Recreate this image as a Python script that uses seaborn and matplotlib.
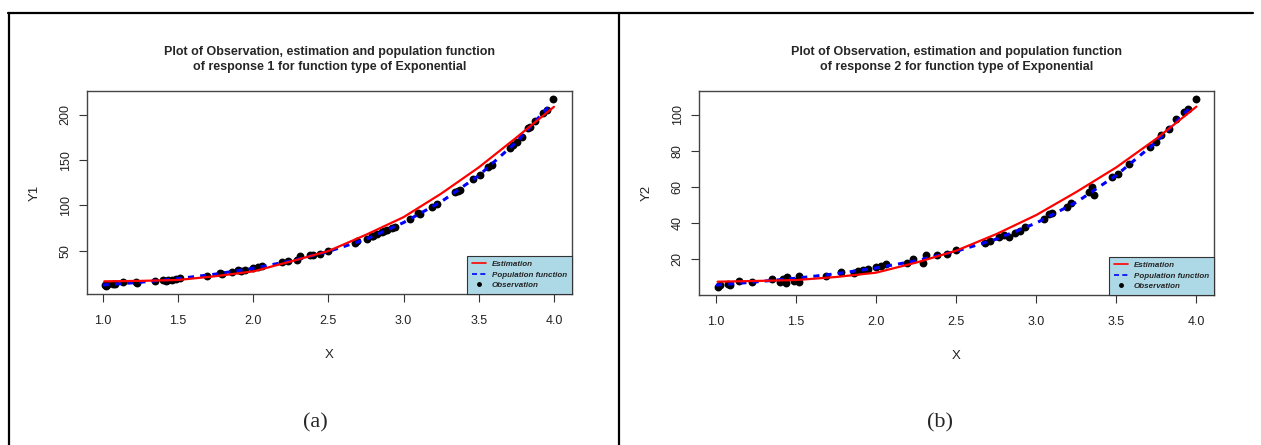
import numpy as np
import pandas as pd
import matplotlib
matplotlib.use("Agg")
import matplotlib.pyplot as plt
import seaborn as sns
from matplotlib.lines import Line2D

# ---------------- data ----------------
obs1_x = [1.013, 1.02, 1.03, 1.069, 1.08, 1.135, 1.224, 1.23, 1.346, 1.401, 1.42, 1.435,
          1.46, 1.49, 1.512, 1.69, 1.778, 1.79, 1.856, 1.9, 1.92, 1.945, 2.0, 2.03, 2.056,
          2.189, 2.233, 2.289, 2.311, 2.377, 2.40, 2.444, 2.5, 2.677, 2.69, 2.754, 2.788,
          2.80, 2.821, 2.854, 2.87, 2.888, 2.921, 2.94, 3.043, 3.098, 3.11, 3.187, 3.22,
          3.342, 3.36, 3.375, 3.464, 3.508, 3.564, 3.586, 3.708, 3.73, 3.753, 3.786, 3.83,
          3.84, 3.874, 3.93, 3.952, 3.996]
obs1_y = [11.8, 10.5, 12.5, 13.3, 12.8, 15.1, 15.8, 14.5, 16.9, 17.5, 16.8, 18.0,
          17.5, 18.8, 20.2, 22.4, 25.4, 24.5, 26.8, 28.3, 27.5, 29.0, 30.9, 32.0, 33.5,
          37.1, 38.2, 40.1, 43.8, 44.8, 45.5, 46.7, 50.0, 58.5, 60.5, 63.2, 65.8,
          66.5, 68.4, 70.2, 71.5, 72.4, 75.0, 76.0, 84.9, 91.5, 90.0, 98.1, 101.4,
          114.3, 116.0, 117.3, 129.0, 133.8, 143.0, 144.8, 163.2, 167.0, 170.5, 175.4, 185.3,
          187.0, 193.7, 201.8, 205.5, 217.6]

pop1_x = [1.0, 1.25, 1.5, 1.75, 2.0, 2.25, 2.5, 2.75, 3.0, 3.25, 3.5, 3.75, 3.98]
pop1_y = [12.0, 15.0, 19.0, 24.0, 30.5, 38.5, 49.0, 62.5, 81.0, 104.0, 133.0, 170.0, 212.0]

est1_x = [1.01, 1.25, 1.5, 1.75, 2.0, 2.25, 2.5, 2.75, 3.0, 3.25, 3.5, 3.75, 4.0]
est1_y = [16.0, 16.5, 17.5, 21.7, 27.0, 38.0, 49.5, 67.5, 87.0, 113.0, 142.0, 175.0, 209.0]

obs2_x = [1.015, 1.025, 1.077, 1.087, 1.145, 1.222, 1.347, 1.40, 1.42, 1.44, 1.445, 1.49,
          1.52, 1.52, 1.69, 1.78, 1.86, 1.89, 1.92, 1.95, 2.00, 2.03, 2.06, 2.19, 2.23,
          2.29, 2.31, 2.38, 2.44, 2.50, 2.68, 2.71, 2.77, 2.80, 2.83, 2.87, 2.90, 2.93,
          3.05, 3.08, 3.10, 3.19, 3.22, 3.33, 3.36, 3.35, 3.47, 3.51, 3.58, 3.71, 3.75,
          3.78, 3.83, 3.87, 3.92, 3.95, 3.997]
obs2_y = [4.3, 5.6, 6.1, 5.6, 7.8, 7.4, 8.7, 7.4, 8.7, 6.5, 10.0, 7.8,
          10.4, 7.4, 10.6, 12.6, 12.4, 13.3, 13.9, 14.6, 15.4, 16.1, 17.2, 17.9, 20.0,
          17.9, 22.0, 22.1, 22.6, 24.9, 29.0, 30.1, 32.2, 33.2, 32.2, 34.3, 35.8, 37.6,
          42.3, 44.8, 45.5, 48.8, 51.0, 57.1, 55.8, 60.0, 65.8, 67.3, 72.9, 82.2, 85.0,
          88.7, 92.4, 97.6, 101.7, 103.5, 108.9]

pop2_x = [1.0, 1.25, 1.5, 1.75, 2.0, 2.25, 2.5, 2.75, 3.0, 3.25, 3.5, 3.75, 3.97]
pop2_y = [5.5, 7.3, 9.3, 11.8, 15.0, 19.0, 24.3, 31.0, 40.0, 51.5, 66.5, 85.0, 105.0]

est2_x = [1.01, 1.25, 1.5, 1.75, 2.0, 2.25, 2.5, 2.75, 3.0, 3.25, 3.5, 3.75, 4.0]
est2_y = [7.4, 7.8, 8.3, 10.0, 12.4, 18.0, 24.6, 33.8, 44.4, 57.2, 70.9, 86.8, 104.6]

x_ticks = [1.0, 1.5, 2.0, 2.5, 3.0, 3.5, 4.0]
y1_ticks = [50, 100, 150, 200]
y2_ticks = [20, 40, 60, 80, 100]

titles = ["Plot of Observation, estimation and population function\nof response 1 for function type of Exponential",
          "Plot of Observation, estimation and population function\nof response 2 for function type of Exponential"]
ylabels = ["Y1", "Y2"]
captions = ["(a)", "(b)"]
legend_labels = ["Estimation", "Population function", "Observation"]

# ---------------- figure ----------------
sns.set_theme(style="white")
plt.rcParams['font.family'] = ['Liberation Sans', 'DejaVu Sans']

W, H = 1261, 445
fig = plt.figure(figsize=(W / 100, H / 100), dpi=100)
fig.patch.set_facecolor("white")

def box(l, t, r, b):
    return [l / W, 1 - b / H, (r - l) / W, (b - t) / H]

ax1 = fig.add_axes(box(87, 91, 572, 294))
ax2 = fig.add_axes(box(699, 91, 1214, 295))

panels = [
    (ax1, obs1_x, obs1_y, pop1_x, pop1_y, est1_x, est1_y, y1_ticks, (0.895, 4.12), (2, 226.5)),
    (ax2, obs2_x, obs2_y, pop2_x, pop2_y, est2_x, est2_y, y2_ticks, (0.894, 4.11), (0, 113.3)),
]

for i, (ax, ox, oy, px, py, ex, ey, yt, xl, yl) in enumerate(panels):
    sns.scatterplot(x=ox, y=oy, ax=ax, color="black", s=32, linewidth=0, zorder=2)
    sns.lineplot(x=px, y=py, ax=ax, color="blue", linewidth=2.2, sort=False,
                 estimator=None, zorder=3)
    ax.lines[-1].set_linestyle((0, (2.0, 2.0)))
    sns.lineplot(x=ex, y=ey, ax=ax, color="red", linewidth=1.6, sort=False,
                 estimator=None, zorder=4)
    ax.set_xlim(*xl)
    ax.set_ylim(*yl)
    ax.set_xticks(x_ticks)
    ax.set_xticklabels([f"{v:.1f}" for v in x_ticks])
    ax.set_yticks(yt)
    ax.set_yticklabels([str(v) for v in yt], rotation=90, va="center")
    ax.tick_params(axis="x", which="major", direction="out", length=6, width=0.8,
                   color="#333333", labelsize=9, labelcolor="#222222", pad=9, bottom=True)
    ax.tick_params(axis="y", which="major", direction="out", length=6, width=0.8,
                   color="#333333", labelsize=9, labelcolor="#222222", pad=5, left=True)
    for sp in ax.spines.values():
        sp.set_color("#444444")
        sp.set_linewidth(1.0)
    ax.set_xlabel("X", fontsize=9.5, color="#222222", labelpad=16)
    ax.set_ylabel(ylabels[i], fontsize=9.5, color="#222222", labelpad=14)
    ax.set_title(titles[i], fontsize=9, fontweight="bold", pad=15, linespacing=1.3)

    handles = [Line2D([], [], color="red", lw=1.2),
               Line2D([], [], color="blue", lw=1.2, linestyle=(0, (3, 2))),
               Line2D([], [], color="black", marker="o", markersize=2.5, linestyle="none")]
    leg = ax.legend(handles, legend_labels, loc="lower right", borderaxespad=0,
                    fancybox=False, frameon=True, facecolor="#ADD8E6", edgecolor="#333333",
                    framealpha=1, handlelength=1.8, handletextpad=0.7, labelspacing=0.35,
                    borderpad=0.6,
                    prop={"size": 5.8, "weight": "bold", "style": "italic"})
    leg.get_frame().set_linewidth(0.8)

# captions
fig.text(315 / W, 1 - 423 / H, captions[0], ha="center", va="center", fontsize=16,
         family=["Liberation Serif", "DejaVu Serif"])
fig.text(940 / W, 1 - 423 / H, captions[1], ha="center", va="center", fontsize=16,
         family=["Liberation Serif", "DejaVu Serif"])

# table frame lines
fig.add_artist(Line2D([8 / W, 1253 / W], [1 - 13 / H, 1 - 13 / H], color="black", lw=1.6))
fig.add_artist(Line2D([9 / W, 9 / W], [0, 1 - 13 / H], color="black", lw=1.6))
fig.add_artist(Line2D([619 / W, 619 / W], [0, 1 - 13 / H], color="black", lw=1.6))

fig.savefig("out.png", dpi=100, facecolor="white")
